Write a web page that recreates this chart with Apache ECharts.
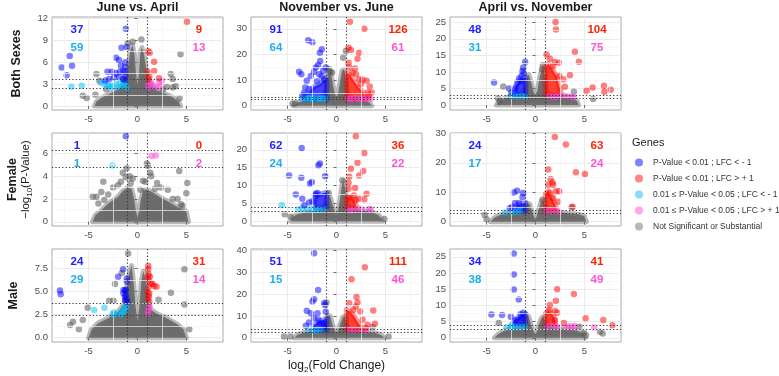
<!DOCTYPE html>
<html>
<head>
<meta charset="utf-8">
<script src="https://cdn.jsdelivr.net/npm/echarts@6/dist/echarts.min.js"></script>
<style>html,body{margin:0;padding:0;background:#fff}#chart{width:779px;height:376px}</style>
</head>
<body>
<div id="chart"></div>
<script>
// facetted volcano plots, rows = sex, columns = comparison
const colTitles = ['June vs. April', 'November vs. June', 'April vs. November'];
const rowTitles = ['Both Sexes', 'Female', 'Male'];
const seriesNames = ['P-Value < 0.01 ; LFC < - 1', 'P-Value < 0.01 ; LFC > + 1',
  '0.01 ≤ P-Value < 0.05 ; LFC < - 1', '0.01 ≤ P-Value < 0.05 ; LFC > + 1', 'Not Significant or Substantial'];

const xTicks = [-5, 0, 5];
const xRange = [-8.75, 8.75];
const foldLines = [-1, 1];
// panels in row order
const yTicks = [[0, 3, 6, 9, 12], [0, 10, 20, 30], [0, 5, 10, 15, 20, 25],
  [0, 2, 4, 6], [0, 5, 10, 15, 20], [0, 10, 20, 30],
  [0, 2.5, 5, 7.5], [0, 10, 20, 30, 40], [0, 5, 10, 15, 20, 25]];
const yRange = [[-0.55, 12.2], [-1.67, 34.6], [-1.5, 26.6],
  [-0.37, 7.78], [-1.3, 24.7], [-1.47, 30.1],
  [-0.47, 9.6], [-1.94, 40.8], [-1.3, 27.4]];
const thresholds = [[3.64, 2.41], [3.49, 2.48], [3.09, 2.19],
  [6.23, 4.75], [3.84, 2.71], [4.0, 2.98],
  [3.76, 2.46], [4.1, 2.75], [4.0, 2.78]];
// [strong down, strong up, weak down, weak up]
const counts = [[37, 9, 59, 13], [91, 126, 64, 61], [48, 104, 31, 75],
  [1, 0, 1, 2], [62, 36, 24, 22], [24, 63, 17, 24],
  [24, 31, 29, 14], [51, 111, 15, 46], [34, 41, 38, 49]];

// outline of the dense grey mass of non significant genes
const grayCloud = [
  [[-4.4,0],[-4.2,0.6],[-3.6,1.2],[-2.8,1.7],[-2.0,2.3],[-1.4,3.0],[-1.1,4.2],[-0.9,6.0],[-0.7,7.8],[-0.5,8.3],[-0.3,7.0],[-0.15,4.5],[0,3.0],[0.15,4.5],[0.3,7.5],[0.45,8.0],[0.65,7.2],[0.85,5.5],[1.05,3.8],[1.4,2.8],[2.0,2.2],[2.8,1.7],[3.6,1.2],[4.2,0.6],[4.4,0]],
  [[-4.4,0],[-4.0,1.2],[-3.4,2.0],[-2.5,2.4],[-1.6,3.0],[-1.15,5],[-1.0,9],[-0.9,13.0],[-0.6,13.3],[-0.35,8],[-0.15,4.5],[0,3.7],[0.15,4.5],[0.35,9],[0.55,13.5],[0.75,14.2],[0.95,11],[1.1,6],[1.4,3.2],[2.2,2.6],[3.0,2.0],[3.4,1.2],[3.6,0]],
  [[-4.0,0],[-3.7,1.3],[-3.0,2.3],[-2.2,2.8],[-1.5,3.3],[-1.15,5],[-0.95,7.5],[-0.7,9.2],[-0.45,7],[-0.2,4],[0,3],[0.2,4.5],[0.4,8],[0.6,10.5],[0.8,11.2],[1.0,8],[1.15,4.5],[1.6,3.0],[2.6,2.7],[3.5,2.4],[4.0,2.0],[4.3,1],[4.4,0]],
  [[-4.6,0],[-4.3,0.6],[-3.7,1.0],[-3.0,1.6],[-2.0,2.2],[-1.5,2.7],[-1.0,3.0],[-0.6,2.9],[-0.35,2.0],[-0.15,0.9],[0,0.4],[0.15,0.9],[0.35,2.0],[0.6,2.8],[1.0,2.8],[1.5,2.6],[2.4,2.1],[3.1,1.8],[4.1,1.3],[5.0,0.9],[5.2,0]],
  [[-4.7,0],[-4.5,1.2],[-4.0,2.0],[-3.0,2.6],[-2.0,3.1],[-1.3,3.8],[-1.05,5.5],[-0.85,7.5],[-0.6,6.5],[-0.35,4],[-0.15,2.6],[0,2.2],[0.15,3],[0.35,6],[0.55,10],[0.75,11.3],[0.95,8],[1.1,4.5],[1.6,3.4],[2.6,3.0],[3.6,2.6],[4.3,1.8],[4.6,0.8],[4.7,0]],
  [[-4.6,0],[-4.2,1.4],[-3.5,2.4],[-2.5,3.0],[-1.5,3.4],[-1.1,4.8],[-0.85,6.3],[-0.6,6.0],[-0.35,3.5],[-0.12,1.5],[0,1.0],[0.12,1.8],[0.35,4.5],[0.6,7.0],[0.8,7.0],[1.0,5.5],[1.25,3.6],[2.2,3.2],[3.3,2.9],[4.4,2.5],[5.0,1.9],[5.1,0.8],[5.2,0]],
  [[-5.0,0],[-4.7,0.9],[-4.0,1.6],[-3.0,2.1],[-2.0,2.8],[-1.4,3.6],[-1.1,5.2],[-0.85,7.0],[-0.6,7.8],[-0.4,6.0],[-0.18,3.2],[0,1.9],[0.18,3.2],[0.4,6.2],[0.6,7.2],[0.85,6.2],[1.05,4.0],[1.4,3.0],[2.0,2.6],[3.0,2.1],[4.0,1.5],[4.7,0.9],[5.0,0]],
  [[-4.3,0],[-4.0,1.4],[-3.3,2.4],[-2.3,3.0],[-1.4,4.0],[-1.1,7],[-0.9,10.5],[-0.65,10],[-0.4,6],[-0.15,3.2],[0,2.4],[0.15,3.2],[0.4,6.5],[0.65,9.5],[0.85,9.8],[1.05,6.5],[1.3,4],[2.2,3.2],[3.2,2.7],[4.0,2.2],[4.6,1.2],[4.9,0]],
  [[-4.2,0],[-3.8,1.2],[-3.2,2.2],[-2.4,2.9],[-1.5,3.6],[-1.15,5.5],[-0.95,7.3],[-0.7,6.5],[-0.4,3.5],[-0.15,1.8],[0,1.2],[0.15,2],[0.4,4.5],[0.65,6.3],[0.85,6.3],[1.05,4.8],[1.4,3.4],[2.5,2.9],[3.5,2.6],[4.3,2.2],[4.9,1.3],[5.1,0]]
];
const grayPts = [
  [[4.4,7.1],[3.4,4.4],[-4.2,4.4],[-3.9,3.45],[3.6,2.55],[3.9,2.7],[4.3,1.05],[-5.6,1.4],[-5.2,1.1],[-4.3,1.55],[3.6,3.7],[0.4,9.1],[-0.5,8.8],[3.0,2.6],[-1.0,8.6],[-3.2,2.3],[2.6,2.3]],
  [[-4.5,0.9],[-4.24,0.9],[0.96,21.3],[0.68,18.7],[-0.65,13.2],[-0.45,13.0],[-0.8,14.3]],
  [[-3.3,5.6],[-3.83,2.0],[-3.66,1.0],[3.93,4.0],[5.9,1.8],[0.68,10.8],[0.75,12]],
  [[4.27,4.44],[5.1,3.4],[5.0,2.5],[0.96,5.1],[-3.5,3.5],[-4.58,2.2],[4.44,1.54],[-1.5,4.3],[-1.2,3.9],[-0.8,4.0],[-0.5,3.8],[-2.5,3.0],[-3.7,2.6],[-4.2,2.2],[1.06,4.9],[1.4,4.0],[2.0,3.4],[2.4,3.0],[3.1,2.8],[4.1,2.0],[0.55,3.6],[-3.0,2.4],[-2.0,3.2],[0.3,2.8],[-1.1,4.7],[1.3,4.3],[-1.7,3.5],[-0.7,3.4],[0.8,3.5],[1.8,2.9],[-3.4,1.9],[3.6,2.0],[4.6,1.4],[-4.0,1.6]],
  [[4.9,0.66],[0.6,11.5],[-0.8,7.9],[-4.7,1.3],[-5.3,2.0]],
  [[-5.2,2.3],[-5.0,0.8],[3.7,4.9],[0.72,7.4]],
  [[-0.96,9.1],[4.8,7.4],[3.42,4.87],[4.8,3.6],[-2.3,5.8],[2.15,4.1],[-5.1,3.25],[-6.9,1.37],[-6.6,1.73],[-5.6,1.9],[-6.0,0.9],[5.3,0.9],[-2.46,4.0],[-2.9,4.0],[-1.6,7.0]],
  [[-5.37,0.6],[-4.7,0.6],[5.33,0.6],[3.7,4.9],[-1.03,16.2]],
  [[-3.76,4.6],[4.96,1.5],[5.16,0.8],[6.6,1.85],[6.87,1.3],[4.48,3.4]]
];
// outlines of the solid clumps of significant genes
const blueBlob = [
  [],
  [[-3.3,2.5],[-3.2,4.5],[-2.7,5.5],[-2.3,7.5],[-1.7,8.5],[-1.3,10],[-1.0,10],[-1.0,2.5]],
  [[-2.2,3.1],[-2.1,5.5],[-1.6,7.5],[-1.0,8.5],[-1.0,3.1]],
  [],
  [[-2.3,3.9],[-2.2,6.5],[-1.8,7.5],[-1.2,8],[-1.0,8],[-1.0,3.9]],
  [[-2.1,3.5],[-2.0,5.5],[-1.5,6],[-1.0,6.5],[-1.0,3.5]],
  [],
  [[-2.5,3.5],[-2.3,6],[-1.8,7.5],[-1.2,8.5],[-1.0,9],[-1.0,3.5]],
  [[-2.4,4.0],[-2.2,5.5],[-1.6,6.5],[-1.0,7.5],[-1.0,4.0]]
];
const redBlob = [
  [],
  [[1.0,2.5],[1.0,13],[1.4,12],[1.8,9.5],[2.3,7],[2.8,5],[3.0,3],[3.0,2.5]],
  [[1.0,3],[1.0,11.5],[1.3,12.5],[1.7,11],[2.2,8.5],[2.4,6],[2.6,4],[2.6,3]],
  [],
  [[1.0,3.9],[1.0,6.5],[1.4,7],[1.8,6],[2.0,4.5],[2.0,3.9]],
  [[1.0,3.5],[1.0,9.5],[1.3,10.5],[1.6,8.5],[2.0,6],[2.2,4],[2.2,3.5]],
  [],
  [[1.0,3.5],[1.0,13],[1.4,12],[1.8,10],[2.2,7],[2.6,4.5],[2.6,3.5]],
  [[1.0,4.0],[1.0,7.5],[1.3,8.3],[1.8,7],[2.0,5.5],[2.1,4]]
];
const bluePts = [
  [[-1.2,10.6],[-7.76,5.27],[-7.25,4.2],[-6.94,6.86],[-6.7,5.5],[-1.64,8.0],[-1.1,8.1],[-2.2,6.6],[-1.9,6.3],[-1.26,6.0],[-1.7,5.5],[-3.08,4.7],[-2.63,4.7],[-2.2,4.5],[-1.8,4.7],[-1.47,4.8],[-1.26,4.7],[-1.26,4.1],[-1.47,3.7],[-1.88,4.05],[-2.4,3.9],[-2.9,3.7],[-3.3,3.5],[-1.26,5.3],[-1.33,3.6]],
  [[-2.9,25.5],[-2.46,24.8],[-1.7,20.7],[-1.5,22],[-3.83,13.2],[-3.6,12.3],[-1.88,15.9],[-1.67,17.4],[-2.12,14.9],[-2.63,11.6],[-3.04,9.7],[-2.3,13.2],[-1.37,13.6],[-1.78,12.3],[-3.2,7.1],[-2.8,6.5],[-1.26,10.3],[-1.1,14.9],[-3.5,4.0],[-3.3,5.2],[-2.0,9.5],[-1.5,11.5]],
  [[-1.06,13],[-1.26,11.3],[-1.33,10.3],[-4.24,6.8],[-2.7,5],[-1.68,8],[-1.85,6.8],[-2.46,3.8],[-2.0,5],[-1.44,7.3],[-1.44,8.8],[-1.2,9.5]],
  [[-1.2,7.5]],
  [[-3.56,20.5],[-1.85,15.7],[-1.7,16.2],[-4.85,12.8],[-3.6,12.2],[-2.53,11],[-2.7,10.6],[-1.16,12.6],[-4.17,7.5],[-3.5,6.3],[-2.12,7.7],[-2.2,7.2],[-1.95,7.9],[-2.8,5.3],[-2.46,5.6],[-3.3,4.5]],
  [[-1.88,10.5],[-2.22,9.9],[-1.26,9.7],[-2.63,4.56],[-2.1,6.3],[-1.68,6.3],[-1.33,8.3],[-2.4,5.0]],
  [[-7.93,5.1],[-7.86,4.7],[-1.98,6.6],[-1.47,7.4],[-1.1,6.4],[-1.1,6.06],[-1.2,5.2],[-1.44,5.16],[-1.26,5.1],[-1.44,4.8],[-1.2,4.6],[-1.13,4.15],[-1.26,4.0],[-1.03,3.9],[-1.3,4.4]],
  [[-2.29,38.8],[-1.88,22],[-2.29,17.7],[-2.46,16.7],[-1.26,15.9],[-1.16,15.1],[-3.04,12.4],[-2.63,11.3],[-1.95,11.3],[-2.29,9],[-1.85,8.3],[-2.8,7.0],[-3.14,5.5],[-1.68,6.7],[-1.26,6.0],[-1.1,12]],
  [[-2.22,26],[-2.22,19.5],[-2.22,14.9],[-1.71,11.8],[-4.51,7.2],[-3.42,7.0],[-2.53,6.5],[-1.54,7.3],[-1.26,7.7],[-1.95,5.5],[-1.44,6.0]]
];
const redPts = [
  [[5.06,11.55],[1.1,7.5],[1.26,7.3],[1.7,6.05],[1.03,4.7],[1.7,4.8],[1.2,4.05],[1.13,3.7],[2.2,3.8]],
  [[1.37,32.7],[2.84,30],[1.23,22.6],[1.47,21.7],[2.32,20.7],[2.15,18.3],[1.23,16.8],[1.3,14.9],[1.9,14.5],[2.32,10.3],[2.67,10.1],[3.4,7.5],[3.08,9.7],[3.6,5.2],[3.2,5.2],[2.0,12.3],[1.64,12.9],[2.5,8.5],[3.3,4.0]],
  [[2.05,25.1],[2.09,22.8],[4.03,16.1],[4.44,13.1],[1.13,15.3],[1.47,14],[1.98,13],[2.39,12.8],[1.8,11.8],[2.84,7.8],[3.52,9],[2.43,8.8],[5.23,4.3],[5.85,5.3],[7.0,5.8],[7.7,4.6],[7.05,4.0],[3.0,5.5]],
  [],
  [[1.98,23.8],[2.84,19.1],[2.15,16.4],[1.47,14.7],[2.74,14.1],[2.32,12.8],[1.3,12.5],[1.23,10.8],[1.9,9.3],[1.23,9.1],[3.08,7.7],[2.32,6.3],[2.84,6.2],[1.98,6.0],[1.3,6.5],[1.8,7.2]],
  [[1.98,28.7],[3.11,26.2],[1.3,17.7],[4.14,16.8],[5.06,16.2],[1.54,14.5],[1.74,13.3],[1.8,12.5],[1.3,12.5],[2.08,10.3],[2.43,10.3],[1.47,9.7],[2.32,6.8],[1.8,8.0],[3.8,5.1]],
  [[1.1,7.76],[1.1,7.4],[1.13,6.86],[1.26,6.6],[1.13,6.25],[1.54,5.8],[1.13,5.5],[1.03,5.0],[1.2,4.8],[1.1,4.26],[1.2,3.9],[1.7,5.6],[1.95,5.5],[1.37,5.9],[1.05,6.6],[1.15,4.5]],
  [[2.9,32.4],[1.54,26.9],[2.05,18.7],[2.15,16.2],[1.3,15.9],[2.43,12.1],[3.76,12.5],[1.98,14.4],[1.7,12.8],[3.18,6.0],[3.93,6.4],[2.67,8.3],[3.0,4.5]],
  [[2.22,15],[2.09,11.4],[1.47,10.1],[3.93,13.5],[1.4,8.5],[2.0,8.3],[2.22,7.7],[1.98,5.5],[2.9,4.6],[5.13,6.0],[6.94,5.5],[7.86,3.9]]
];
const skyPts = [
  [[-6.77,2.64],[-5.7,2.77],[-3.76,3.2],[-2.9,2.86],[-2.56,2.77],[-2.2,3.0],[-1.8,3.2],[-1.54,2.7],[-1.26,3.0],[-2.7,2.5],[-2.05,2.55],[-1.47,3.2],[-3.08,2.7],[-1.1,2.5],[-3.4,3.0]],
  [[-3.2,2.8],[-2.8,2.9],[-2.4,3.0],[-2.0,2.8],[-1.6,3.0],[-1.2,2.9],[-2.6,2.6],[-1.8,2.6],[-1.4,2.6],[-3.0,3.1],[-3.5,2.7]],
  [[-2.2,2.7],[-1.8,2.5],[-1.4,2.8],[-1.1,2.4],[-2.5,2.9]],
  [[-2.56,4.94]],
  [[-5.6,4.5],[-3.5,3.7],[-3.0,3.4],[-2.46,3.5],[-1.78,3.4],[-1.26,3.4],[-3.9,3.3],[-2.1,3.1]],
  [[-3.1,3.1],[-1.6,3.6],[-1.95,3.4],[-2.4,3.2]],
  [[-4.44,3.0],[-3.38,3.25],[-2.4,2.74],[-2.56,2.56],[-2.3,2.5],[-1.6,2.7],[-1.37,3.2],[-1.26,3.0],[-1.47,2.8],[-1.13,3.36],[-1.7,2.5]],
  [[-2.9,3.8],[-2.3,3.5],[-1.6,3.8],[-2.0,3.1]],
  [[-2.97,3.2],[-2.6,3.2],[-2.3,3.2],[-1.78,3.2],[-1.44,3.2],[-2.46,3.9],[-1.1,3.5]]
];
const pinkPts = [
  [[1.26,3.0],[1.2,2.55],[1.6,2.86],[2.2,3.2],[2.5,3.45],[1.37,3.3],[1.9,2.55],[1.1,2.8],[2.35,2.7]],
  [[1.2,2.9],[1.6,2.8],[2.0,3.0],[2.4,2.8],[2.8,3.0],[3.2,2.9],[3.5,2.7],[1.4,2.6],[2.2,2.6],[3.0,2.6]],
  [[1.4,2.7],[1.8,2.6],[2.2,2.8],[2.6,2.6],[3.0,2.7],[3.4,2.6],[3.8,2.5],[3.9,2.3],[2.0,2.4]],
  [[1.44,5.77],[1.88,5.8]],
  [[1.3,3.4],[1.8,3.2],[2.3,3.6],[3.35,3.4],[3.5,3.4],[1.5,3.0],[2.6,3.3]],
  [[1.13,3.6],[1.5,3.5],[2.0,3.7],[2.4,3.4]],
  [[1.16,3.18],[1.13,2.9],[1.2,3.45],[1.05,2.6]],
  [[1.37,3.7],[1.8,3.4],[2.4,3.6],[3.0,3.2]],
  [[1.47,3.9],[2.0,3.6],[3.2,3.2],[3.86,3.2],[4.0,3.6],[6.0,3.2],[2.3,3.2],[3.5,3.6],[1.2,3.3]]
];

const FONT = '"Liberation Sans", Arial, sans-serif';
const gridLeft = [52, 251, 450];
const gridTop = [17, 133, 249];
const gridW = 171, gridH = 93;
const pointColors = ['#0000ff', '#ff0000', '#00bfff', '#ff44d6', '#5a5a5a'];
const legendColors = ['#8080ff', '#ff8484', '#86dcfa', '#ffa6ec', '#b8b8b8'];
const countColors = ['#2222ff', '#ff2400', '#1aaef0', '#ff52d2'];

// minor grid lines sit half way between the labelled ones
function minorValues(ticks, range) {
  const step = ticks[1] - ticks[0];
  const out = [];
  for (let v = ticks[0] - step / 2; v <= range[1]; v += step) {
    if (v >= range[0]) out.push(v);
  }
  return out;
}

function polygonItem(outline, fill, stroke, width) {
  return function (params, api) {
    return {
      type: 'polygon',
      shape: { points: outline.map(pt => api.coord(pt)) },
      style: { fill: fill, stroke: stroke, lineWidth: width, lineJoin: 'round' }
    };
  };
}

const grids = [], xAxes = [], yAxes = [], series = [], graphics = [];

for (let p = 0; p < 9; p++) {
  const r = Math.floor(p / 3), c = p % 3;
  const dec = yTicks[p].some(v => v % 1) ? 1 : 0;
  grids.push({
    left: gridLeft[c], top: gridTop[r], width: gridW, height: gridH,
    show: true, borderColor: '#a9a9a9', borderWidth: 1, backgroundColor: '#fff'
  });
  xAxes.push({
    type: 'value', gridIndex: p, min: xRange[0], max: xRange[1],
    axisLine: { show: false },
    axisTick: { length: 3, lineStyle: { color: '#6a6a6a' }, customValues: xTicks },
    axisLabel: { customValues: xTicks, color: '#4d4d4d', fontSize: 9.5, margin: 4, fontFamily: FONT },
    splitLine: { lineStyle: { color: '#ebebeb', width: 1 } }
  });
  yAxes.push({
    type: 'value', gridIndex: p, min: yRange[p][0], max: yRange[p][1],
    axisLine: { show: false },
    axisTick: { length: 3, lineStyle: { color: '#6a6a6a' }, customValues: yTicks[p] },
    axisLabel: {
      customValues: yTicks[p], color: '#4d4d4d', fontSize: 9.5, margin: 4, fontFamily: FONT,
      formatter: v => Number(v).toFixed(dec)
    },
    splitLine: { lineStyle: { color: '#ebebeb', width: 1 } }
  });

  const ax = { xAxisIndex: p, yAxisIndex: p };

  // minor grid
  series.push(Object.assign({
    type: 'line', data: [], z: 0, silent: true,
    markLine: {
      silent: true, symbol: 'none', label: { show: false },
      lineStyle: { color: '#f3f3f3', width: 0.7, type: 'solid' },
      data: minorValues(xTicks, xRange).map(v => ({ xAxis: v }))
        .concat(minorValues(yTicks[p], yRange[p]).map(v => ({ yAxis: v })))
    }
  }, ax));

  series.push(Object.assign({
    type: 'custom', name: seriesNames[4], z: 1, silent: true, clip: true, data: [[0, 0]],
    renderItem: polygonItem(grayCloud[p], '#6b6b6b', 'rgba(115,115,115,0.5)', 5)
  }, ax));
  series.push(Object.assign({
    type: 'scatter', name: seriesNames[4], z: 2, symbolSize: 6.5, data: grayPts[p],
    itemStyle: { color: pointColors[4], opacity: 0.55 }
  }, ax));

  const pts = [skyPts[p], pinkPts[p], bluePts[p], redPts[p]];
  const names = [seriesNames[2], seriesNames[3], seriesNames[0], seriesNames[1]];
  const cols = [pointColors[2], pointColors[3], pointColors[0], pointColors[1]];
  for (let k = 0; k < 4; k++) {
    series.push(Object.assign({
      type: 'scatter', name: names[k], z: 4, symbolSize: 6.5, data: pts[k],
      itemStyle: { color: cols[k], opacity: 0.5 }
    }, ax));
  }
  if (blueBlob[p].length) {
    series.push(Object.assign({
      type: 'custom', name: seriesNames[0], z: 3, silent: true, clip: true, data: [[0, 0]],
      renderItem: polygonItem(blueBlob[p], 'rgba(20,20,255,0.8)', 'rgba(0,0,255,0.4)', 5)
    }, ax));
  }
  if (redBlob[p].length) {
    series.push(Object.assign({
      type: 'custom', name: seriesNames[1], z: 3, silent: true, clip: true, data: [[0, 0]],
      renderItem: polygonItem(redBlob[p], 'rgba(255,20,0,0.8)', 'rgba(255,0,0,0.4)', 5)
    }, ax));
  }

  // dotted cut-off lines
  series.push(Object.assign({
    type: 'line', data: [], z: 6, silent: true,
    markLine: {
      silent: true, symbol: 'none', label: { show: false },
      lineStyle: { color: '#333', width: 1.1, type: [1.2, 2.2] },
      data: foldLines.map(v => ({ xAxis: v })).concat(thresholds[p].map(v => ({ yAxis: v })))
    }
  }, ax));

  // gene counts in the corners
  const cx = [gridLeft[c] + 25, gridLeft[c] + 147];
  const cy = [gridTop[r] + 12.5, gridTop[r] + 30.5];
  const spots = [[0, 0], [1, 0], [0, 1], [1, 1]];
  for (let k = 0; k < 4; k++) {
    graphics.push({
      type: 'text', x: cx[spots[k][0]], y: cy[spots[k][1]], z: 10,
      style: {
        text: String(counts[p][k]), fill: countColors[k],
        font: 'bold 11.5px ' + FONT, align: 'center', verticalAlign: 'middle'
      }
    });
  }
}

colTitles.forEach((t, c) => graphics.push({
  type: 'text', x: gridLeft[c] + gridW / 2, y: 8,
  style: { text: t, fill: '#1a1a1a', font: 'bold 12.5px ' + FONT, align: 'center', verticalAlign: 'middle' }
}));
const rowX = [16.5, 13, 14];
rowTitles.forEach((t, r) => graphics.push({
  type: 'text', x: rowX[r], y: gridTop[r] + gridH / 2, rotation: Math.PI / 2,
  style: { text: t, fill: '#1a1a1a', font: 'bold 12.5px ' + FONT, align: 'center', verticalAlign: 'middle' }
}));
graphics.push({
  type: 'text', x: 26, y: gridTop[1] + gridH / 2, rotation: Math.PI / 2,
  style: {
    text: '{a|−log}{s|10}{a|(P-Value)}', align: 'center', verticalAlign: 'middle',
    rich: {
      a: { fontSize: 11.5, fontFamily: FONT, fill: '#1a1a1a', lineHeight: 15, verticalAlign: 'middle' },
      s: { fontSize: 8, fontFamily: FONT, fill: '#1a1a1a', lineHeight: 15, verticalAlign: 'bottom' }
    }
  }
});
graphics.push({
  type: 'text', x: gridLeft[1] + gridW / 2, y: 366,
  style: {
    text: '{a|log}{s|2}{a|(Fold Change)}', align: 'center', verticalAlign: 'middle',
    rich: {
      a: { fontSize: 12, fontFamily: FONT, fill: '#1a1a1a', lineHeight: 15, verticalAlign: 'middle' },
      s: { fontSize: 8, fontFamily: FONT, fill: '#1a1a1a', lineHeight: 15, verticalAlign: 'bottom' }
    }
  }
});
graphics.push({
  type: 'text', x: 632, y: 143,
  style: { text: 'Genes', fill: '#1a1a1a', font: '11px ' + FONT, align: 'left', verticalAlign: 'middle' }
});

const chart = echarts.init(document.getElementById('chart'), null, { renderer: 'canvas' });
chart.setOption({
  animation: false,
  backgroundColor: '#fff',
  grid: grids,
  xAxis: xAxes,
  yAxis: yAxes,
  legend: {
    orient: 'vertical', left: 630, top: 153,
    itemWidth: 18, itemHeight: 8, itemGap: 7, icon: 'circle',
    selectedMode: false,
    textStyle: { fontSize: 8.5, color: '#333', fontFamily: FONT },
    data: seriesNames.map((n, i) => ({ name: n, itemStyle: { color: legendColors[i], opacity: 1 } }))
  },
  graphic: graphics,
  series: series
});
</script>
</body>
</html>
